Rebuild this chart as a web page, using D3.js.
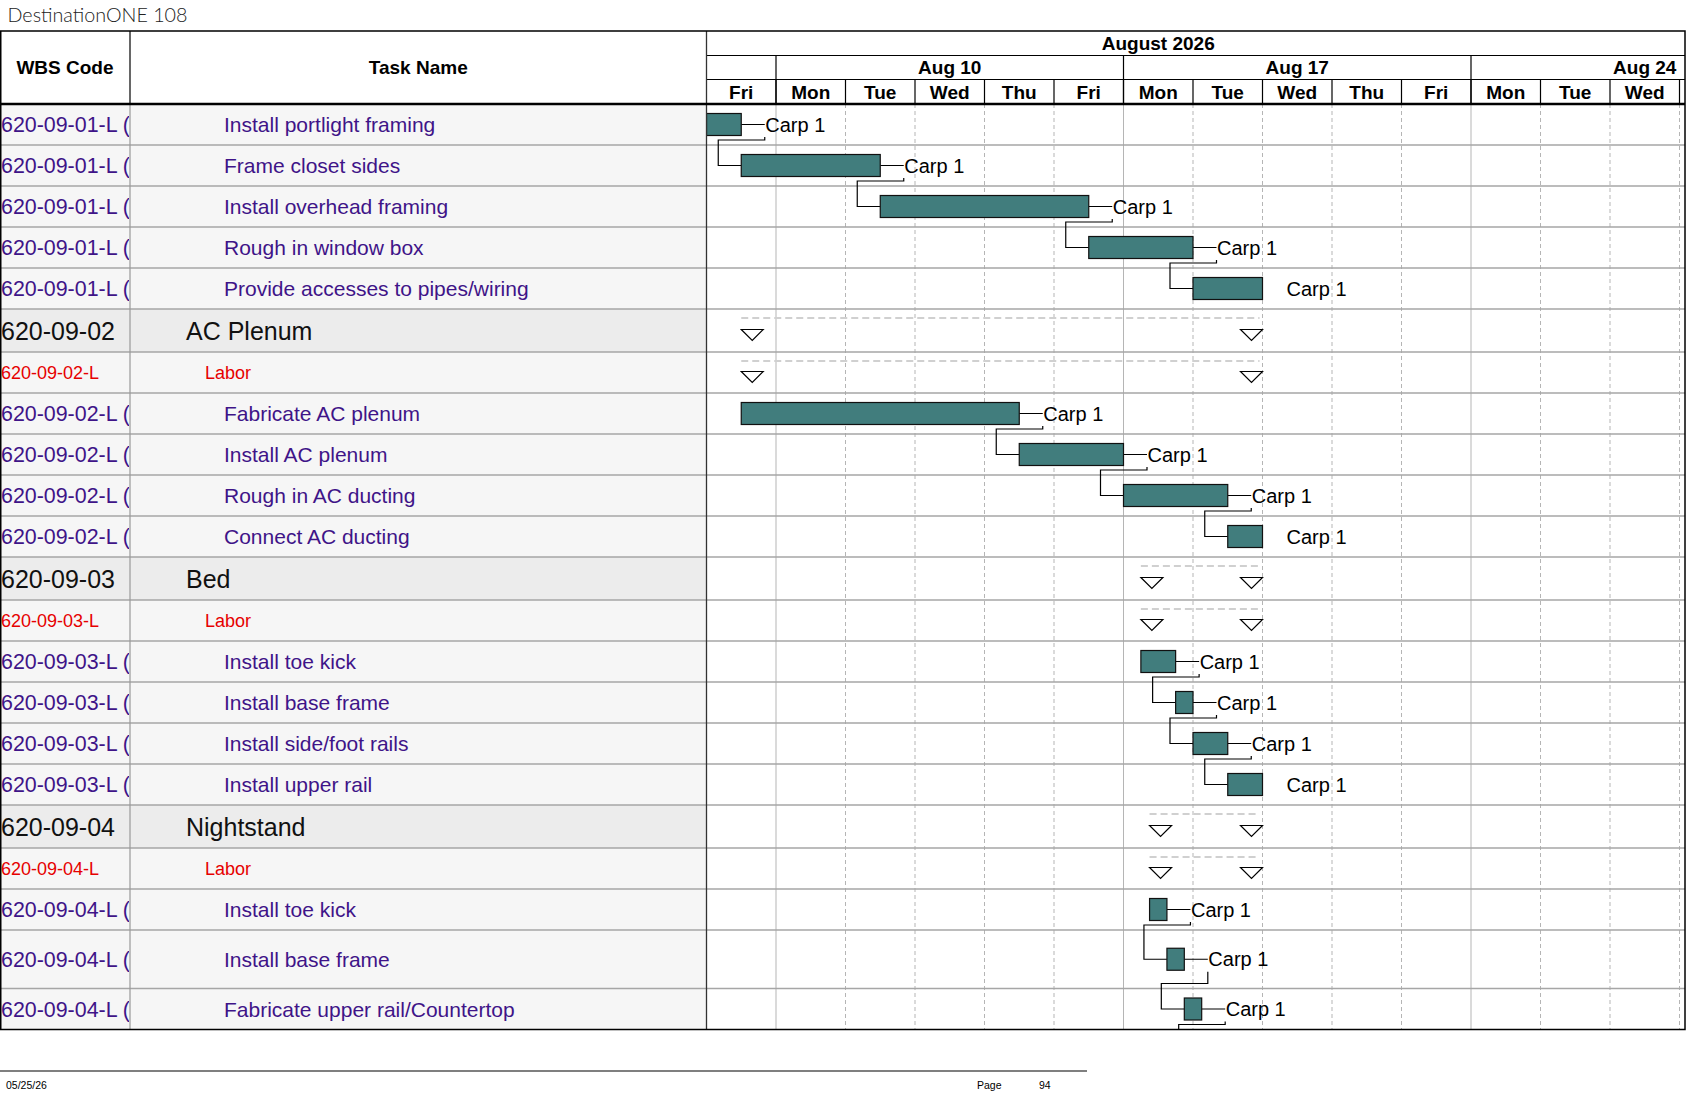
<!DOCTYPE html>
<html>
<head>
<meta charset="utf-8">
<script src="https://cdn.jsdelivr.net/npm/d3@7"></script>
<style>
  body { margin: 0; background: #fff; }
  svg text { font-family: "Liberation Sans", Arial, sans-serif; }
</style>
</head>
<body>
<svg id="chart"></svg>
<script>
// ---- data ----
var wbsCodes = [
  "620-09-01-L (01)", "620-09-01-L (01)", "620-09-01-L (01)", "620-09-01-L (01)", "620-09-01-L (01)",
  "620-09-02", "620-09-02-L",
  "620-09-02-L (01)", "620-09-02-L (01)", "620-09-02-L (01)", "620-09-02-L (01)",
  "620-09-03", "620-09-03-L",
  "620-09-03-L (01)", "620-09-03-L (01)", "620-09-03-L (01)", "620-09-03-L (01)",
  "620-09-04", "620-09-04-L",
  "620-09-04-L (01)", "620-09-04-L (01)", "620-09-04-L (01)"
];
var taskNames = [
  "Install portlight framing", "Frame closet sides", "Install overhead framing", "Rough in window box",
  "Provide accesses to pipes/wiring",
  "AC Plenum", "Labor",
  "Fabricate AC plenum", "Install AC plenum", "Rough in AC ducting", "Connect AC ducting",
  "Bed", "Labor",
  "Install toe kick", "Install base frame", "Install side/foot rails", "Install upper rail",
  "Nightstand", "Labor",
  "Install toe kick", "Install base frame", "Fabricate upper rail/Countertop"
];
var rowKinds = [
  "task", "task", "task", "task", "task",
  "summary", "labor", "task", "task", "task", "task",
  "summary", "labor", "task", "task", "task", "task",
  "summary", "labor", "task", "task", "task"
];
// start / finish in working days from Fri Aug 7
var startDays  = [0, 0.5, 2.5, 5.5, 7,  0.5, 0.5, 0.5, 4.5, 6, 7.5,  6.25, 6.25, 6.25, 6.75, 7, 7.5,  6.375, 6.375, 6.375, 6.625, 6.875];
var finishDays = [0.5, 2.5, 5.5, 7, 8,  8, 8, 4.5, 6, 7.5, 8,  8, 8, 6.75, 7, 7.5, 8,  8, 8, 6.625, 6.875, 7.125];
var resources = [
  "Carp 1", "Carp 1", "Carp 1", "Carp 1", "Carp 1", "", "",
  "Carp 1", "Carp 1", "Carp 1", "Carp 1", "", "",
  "Carp 1", "Carp 1", "Carp 1", "Carp 1", "", "",
  "Carp 1", "Carp 1", "Carp 1"
];
var predecessors = [-1, 0, 1, 2, 3, -1, -1, -1, 7, 8, 9, -1, -1, -1, 13, 14, 15, -1, -1, -1, 19, 20];
// last task links to a task on the next page
var nextPageStart = 7.125;

var dayLabels = ["Fri", "Mon", "Tue", "Wed", "Thu", "Fri", "Mon", "Tue", "Wed", "Thu", "Fri", "Mon", "Tue", "Wed"];
var weekLabels = ["Aug 3", "Aug 10", "Aug 17", "Aug 24"];
var weekStarts = [-4, 1, 6, 11];
var monthLabels = ["August 2026"];
var monthStarts = [-4];
var monthEnds = [17];

// ---- layout ----
var W = 1687, H = 1097;
var top0 = 31, hdr1 = 55.5, hdr2 = 79.5, hdrBottom = 104;
var colWbs = 130, colGantt = 706.5, right = 1685;
var rowHeight = { task: 41, labor: 41, summary: 43 };
var tallRows = { 20: 58.5 };
var purple = "#3f1488", red = "#e60000";

var rows = [];
var yy = hdrBottom;
taskNames.forEach(function (name, i) {
  var h = tallRows[i] || rowHeight[rowKinds[i]];
  rows.push({ i: i, top: yy, h: h, cy: yy + h / 2, kind: rowKinds[i] });
  yy += h;
});
var bodyBottom = yy;

var x = d3.scaleLinear().domain([0, dayLabels.length]).range([colGantt, 1679.5]);

var svg = d3.select("#chart").attr("width", W).attr("height", H);
var defs = svg.append("defs");
defs.append("clipPath").attr("id", "wbsClip").append("rect")
  .attr("x", 0).attr("y", hdrBottom).attr("width", colWbs - 1).attr("height", bodyBottom - hdrBottom);
defs.append("clipPath").attr("id", "ganttClip").append("rect")
  .attr("x", colGantt).attr("y", top0).attr("width", right - colGantt).attr("height", bodyBottom - top0);

// title
svg.append("text").attr("x", 7.5).attr("y", 15).attr("dy", "0.35em")
  .style("font-family", "Lato, 'Open Sans', sans-serif").style("font-weight", 300)
  .attr("font-size", 19).attr("textLength", 180).attr("lengthAdjust", "spacingAndGlyphs")
  .attr("fill", "#222").text("DestinationONE 108");

// row backgrounds (table part)
svg.append("g").selectAll("rect").data(rows).enter().append("rect")
  .attr("x", 0).attr("y", function (d) { return d.top; })
  .attr("width", colGantt).attr("height", function (d) { return d.h; })
  .attr("fill", function (d) { return d.kind === "summary" ? "#ececec" : "#f6f6f6"; });

// gantt vertical grid
var grid = svg.append("g");
d3.range(1, dayLabels.length + 1).forEach(function (k) {
  var solid = dayLabels[k] === "Mon";
  grid.append("line").attr("x1", x(k)).attr("x2", x(k))
    .attr("y1", hdrBottom).attr("y2", bodyBottom)
    .attr("stroke", "#b5b5b5").attr("stroke-width", 1)
    .attr("stroke-dasharray", solid ? null : "4,3");
});

// row separator lines
svg.append("g").selectAll("line").data(rows.slice(0, rows.length - 1)).enter().append("line")
  .attr("x1", 0).attr("x2", right)
  .attr("y1", function (d) { return d.top + d.h; }).attr("y2", function (d) { return d.top + d.h; })
  .attr("stroke", "#a6a6a6").attr("stroke-width", 1.3);

// table text
var txt = svg.append("g");
rows.forEach(function (r) {
  var i = r.i;
  var size = r.kind === "summary" ? 25 : (r.kind === "labor" ? 18 : 21);
  var col = r.kind === "summary" ? "#111" : (r.kind === "labor" ? red : purple);
  txt.append("text").attr("clip-path", "url(#wbsClip)")
    .attr("x", 1).attr("y", r.cy).attr("dy", "0.36em")
    .attr("font-size", r.kind === "task" ? 21.4 : size).attr("fill", col).text(wbsCodes[i]);
  var nx = r.kind === "summary" ? 186 : (r.kind === "labor" ? 205 : 224);
  txt.append("text").attr("x", nx).attr("y", r.cy).attr("dy", "0.36em")
    .attr("font-size", size).attr("fill", col).text(taskNames[i]);
});

// gantt marks
var gantt = svg.append("g").attr("clip-path", "url(#ganttClip)");

// summary / labor roll-ups
var rollups = rows.filter(function (r) { return r.kind !== "task"; });
gantt.selectAll(".rollLine").data(rollups).enter().append("line")
  .attr("x1", function (d) { return x(startDays[d.i]); })
  .attr("x2", function (d) { return x(finishDays[d.i]) - 3; })
  .attr("y1", function (d) { return d.top + 9; }).attr("y2", function (d) { return d.top + 9; })
  .attr("stroke", "#d0d0d0").attr("stroke-width", 2).attr("stroke-dasharray", "7,4");
function tri(x0, cy) {
  return "M" + x0 + "," + (cy - 1) + "h22l-11,11z";
}
gantt.selectAll(".triS").data(rollups).enter().append("path")
  .attr("d", function (d) { return tri(x(startDays[d.i]), d.cy); })
  .attr("fill", "#fff").attr("stroke", "#000").attr("stroke-width", 1.2);
gantt.selectAll(".triE").data(rollups).enter().append("path")
  .attr("d", function (d) { return tri(x(finishDays[d.i]) - 22, d.cy); })
  .attr("fill", "#fff").attr("stroke", "#000").attr("stroke-width", 1.2);

// links (finish-to-start)
function linkPath(p, succStart, succCy) {
  var pe = x(finishDays[p.i]), lx = pe + 23.5, ss = x(succStart);
  return "M" + pe + "," + p.cy + "H" + lx +
    "M" + lx + "," + (p.cy + 12.5) + "V" + (p.top + p.h - 5) +
    "H" + (ss - 23) + "V" + succCy + "H" + ss;
}
var tasks = rows.filter(function (r) { return r.kind === "task"; });
gantt.selectAll(".link").data(tasks.filter(function (r) { return predecessors[r.i] >= 0; }))
  .enter().append("path")
  .attr("d", function (d) { return linkPath(rows[predecessors[d.i]], startDays[d.i], d.cy); })
  .attr("fill", "none").attr("stroke", "#000").attr("stroke-width", 1.2);
var lastRow = rows[rows.length - 1];
gantt.append("path")
  .attr("d", linkPath(lastRow, nextPageStart, bodyBottom + 20))
  .attr("fill", "none").attr("stroke", "#000").attr("stroke-width", 1.2);

// task bars
gantt.selectAll(".bar").data(tasks).enter().append("rect")
  .attr("x", function (d) { return x(startDays[d.i]); })
  .attr("width", function (d) { return x(finishDays[d.i]) - x(startDays[d.i]); })
  .attr("y", function (d) { return d.cy - 11; }).attr("height", 22)
  .attr("fill", "#417d7d").attr("stroke", "#111").attr("stroke-width", 1.2);

// resource labels
gantt.selectAll(".res").data(tasks).enter().append("text")
  .attr("x", function (d) { return x(finishDays[d.i]) + 24; })
  .attr("y", function (d) { return d.cy; }).attr("dy", "0.36em")
  .attr("font-size", 20).attr("fill", "#000")
  .text(function (d) { return resources[d.i]; });

// header
var hdr = svg.append("g");
hdr.append("rect").attr("x", 0).attr("y", top0).attr("width", right).attr("height", hdrBottom - top0).attr("fill", "#fff");
hdr.append("text").attr("x", colWbs / 2).attr("y", 67.5).attr("dy", "0.36em")
  .attr("text-anchor", "middle").attr("font-size", 19).attr("font-weight", "bold").text("WBS Code");
hdr.append("text").attr("x", (colWbs + colGantt) / 2).attr("y", 67.5).attr("dy", "0.36em")
  .attr("text-anchor", "middle").attr("font-size", 19).attr("font-weight", "bold").text("Task Name");

var hg = hdr.append("g").attr("clip-path", "url(#ganttClip)");
monthLabels.forEach(function (m, i) {
  hg.append("text").attr("x", x((monthStarts[i] + monthEnds[i]) / 2)).attr("y", 43.5).attr("dy", "0.36em")
    .attr("text-anchor", "middle").attr("font-size", 19).attr("font-weight", "bold").text(m);
});
weekLabels.forEach(function (w, i) {
  hg.append("text").attr("x", x(weekStarts[i] + 2.5)).attr("y", 67.5).attr("dy", "0.36em")
    .attr("text-anchor", "middle").attr("font-size", 19).attr("font-weight", "bold").text(w);
  hg.append("line").attr("x1", x(weekStarts[i])).attr("x2", x(weekStarts[i]))
    .attr("y1", hdr1).attr("y2", hdrBottom).attr("stroke", "#000").attr("stroke-width", 1.2);
});
dayLabels.forEach(function (d, k) {
  hg.append("text").attr("x", x(k + 0.5)).attr("y", 91.8).attr("dy", "0.36em")
    .attr("text-anchor", "middle").attr("font-size", 19).attr("font-weight", "bold").text(d);
  hg.append("line").attr("x1", x(k + 1)).attr("x2", x(k + 1))
    .attr("y1", hdr2).attr("y2", hdrBottom).attr("stroke", "#000").attr("stroke-width", 1.2);
});
hdr.append("line").attr("x1", colGantt).attr("x2", right).attr("y1", hdr1).attr("y2", hdr1).attr("stroke", "#000").attr("stroke-width", 1.2);
hdr.append("line").attr("x1", colGantt).attr("x2", right).attr("y1", hdr2).attr("y2", hdr2).attr("stroke", "#000").attr("stroke-width", 1.2);

// column separators and borders
svg.append("line").attr("x1", colWbs).attr("x2", colWbs).attr("y1", top0).attr("y2", hdrBottom).attr("stroke", "#000").attr("stroke-width", 1.2);
svg.append("line").attr("x1", colWbs).attr("x2", colWbs).attr("y1", hdrBottom).attr("y2", bodyBottom).attr("stroke", "#999").attr("stroke-width", 1.2);
svg.append("line").attr("x1", colGantt).attr("x2", colGantt).attr("y1", top0).attr("y2", bodyBottom).attr("stroke", "#333").attr("stroke-width", 1.3);
svg.append("rect").attr("x", 0.75).attr("y", top0).attr("width", right - 0.75).attr("height", bodyBottom - top0)
  .attr("fill", "none").attr("stroke", "#000").attr("stroke-width", 1.5);
svg.append("line").attr("x1", 0).attr("x2", right).attr("y1", hdrBottom).attr("y2", hdrBottom).attr("stroke", "#000").attr("stroke-width", 2.6);

// footer
svg.append("line").attr("x1", 0).attr("x2", 1087).attr("y1", 1071).attr("y2", 1071).attr("stroke", "#000").attr("stroke-width", 1.2);
svg.append("text").attr("x", 6).attr("y", 1085).attr("dy", "0.36em").attr("font-size", 10.5).text("05/25/26");
svg.append("text").attr("x", 977).attr("y", 1085).attr("dy", "0.36em").attr("font-size", 10.5).text("Page");
svg.append("text").attr("x", 1039).attr("y", 1085).attr("dy", "0.36em").attr("font-size", 10.5).text("94");
</script>
</body>
</html>
